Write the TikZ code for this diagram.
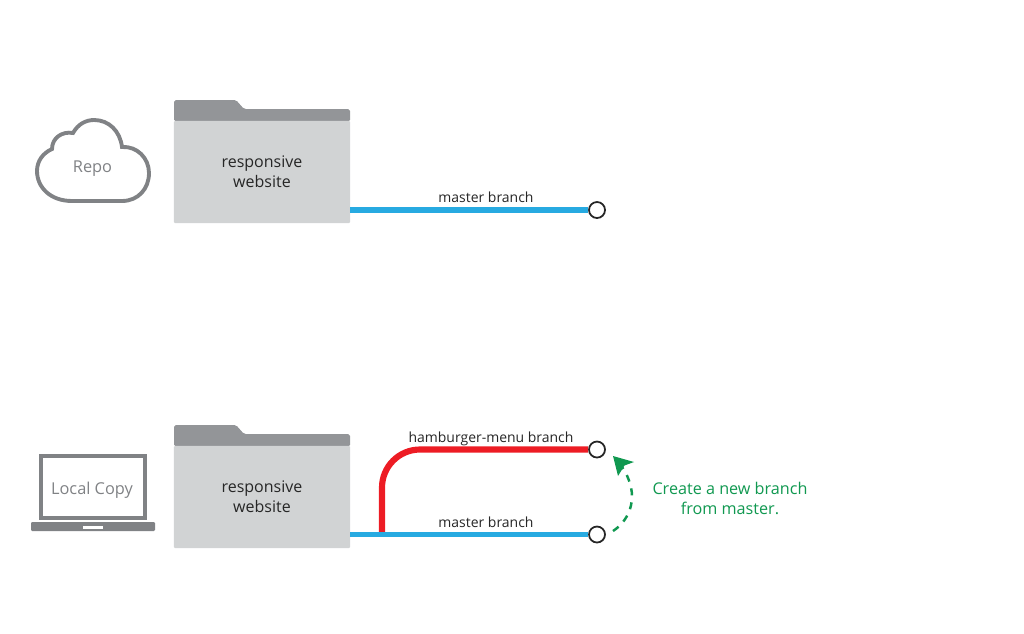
\documentclass[tikz,border=0pt]{standalone}
\usepackage{fontspec}
\usepackage{xcolor}
\setmainfont{Open Sans}
\usetikzlibrary{arrows.meta,calc,positioning}
\definecolor{folderLight}{RGB}{209,211,212}
\definecolor{folderDark}{RGB}{147,149,152}
\definecolor{masterBlue}{RGB}{39,170,225}
\definecolor{branchRed}{RGB}{237,28,36}
\definecolor{noteGreen}{RGB}{16,152,80}
\definecolor{iconGray}{RGB}{128,130,133}
\tikzset{
  folderBody/.style={fill=folderLight, minimum width=1.76cm, minimum height=1.02cm, inner sep=0pt, outer sep=0pt, rounded corners=0.3pt, align=center, text=black!85, font=\fontsize{4.55}{5.7}\selectfont},
  folderTab/.style={fill=folderDark, rounded corners=0.5pt},
  masterLine/.style={draw=masterBlue, line width=1.5pt},
  branchLine/.style={draw=branchRed, line width=1.75pt, rounded corners=0.38cm},
  branchEnd/.style={circle, draw=black!85, fill=white, line width=0.5pt, minimum size=0.16cm, inner sep=0pt},
  branchLabel/.style={font=\fontsize{3.97}{4.5}\selectfont, text=black!85, inner sep=0pt, anchor=base},
  iconLabel/.style={font=\fontsize{4.65}{5.7}\selectfont, text=iconGray, inner sep=0pt},
  noteArrow/.style={draw=noteGreen, line width=0.7pt, dash pattern=on 2pt off 2pt},
  noteLabel/.style={font=\fontsize{4.6}{5.7}\selectfont, text=noteGreen, align=center, inner sep=0pt}
}
\newcommand{\DrawFolder}[2]{%
  \begin{scope}[shift={(0,#2)}]
    \fill[folderTab] (174,121.5) -- (174,100) -- (236,100) -- (244,109) -- (350,109) -- (350,121.5) -- cycle;
    \node[folderBody] (body#1) at (262,172) {responsive\\website};
  \end{scope}%
}
\begin{document}
\begin{tikzpicture}[x=0.01cm,y=-0.01cm]
  \useasboundingbox (0,0) rectangle (1024,633);
  % cloud
  \draw[iconGray, line width=1.1pt, fill=white] (72,201)
    .. controls (50,201) and (37,187) .. (37,171)
    .. controls (37,161) and (43,153) .. (52,149)
    .. controls (52,138) and (62,131) .. (73,133)
    .. controls (78,124) and (86,120) .. (94,120)
    .. controls (109,120) and (120,131) .. (122,147)
    .. controls (137,146) and (149,158) .. (149,173)
    .. controls (149,189) and (138,201) .. (122,201) -- cycle;
  \node[iconLabel] (repo) at (92.5,169) {Repo};
  % laptop
  \draw[iconGray, line width=1.2pt] (41,456) rectangle (145,518);
  \node[iconLabel] (localCopy) at (92,490) {Local Copy};
  \fill[iconGray, rounded corners=0.3pt] (31,522) rectangle (155,531);
  \fill[white] (83,526) rectangle (103,528.5);
  % top folder
  \DrawFolder{Repo}{0}
  \node[branchEnd] (endRepo) at (597,210) {};
  \draw[masterLine] (bodyRepo.east |- endRepo) -- (endRepo);
  \node[branchLabel] (masterRepo) at (486,202) {master branch};
  % bottom folder
  \DrawFolder{Local}{325}
  \node[branchEnd] (endLocal) at (597,534.5) {};
  \node[branchEnd] (endBurger) at (597,449.5) {};
  \coordinate (forkLocal) at (382,533);
  \draw[branchLine] (forkLocal) -- (forkLocal |- endBurger) -- (endBurger);
  \draw[masterLine] (bodyLocal.east |- endLocal) -- (endLocal);
  \node[branchLabel] (masterLocal) at (486,527) {master branch};
  \node[branchLabel] (burgerLabel) at (491,442) {hamburger-menu branch};
  % note
  \coordinate (noteTail) at (613,531);
  \coordinate (noteTip) at (613,456);
  \draw[noteArrow] (noteTail) .. controls (630,520) and (641,495) .. (622,467);
  \fill[noteGreen] (noteTip) -- (634,462) -- (624.5,465.5) -- (618,476) -- cycle;
  \node[noteLabel] (noteText) at (730,498.5) {Create a new branch\\from master.};
\end{tikzpicture}
\end{document}
